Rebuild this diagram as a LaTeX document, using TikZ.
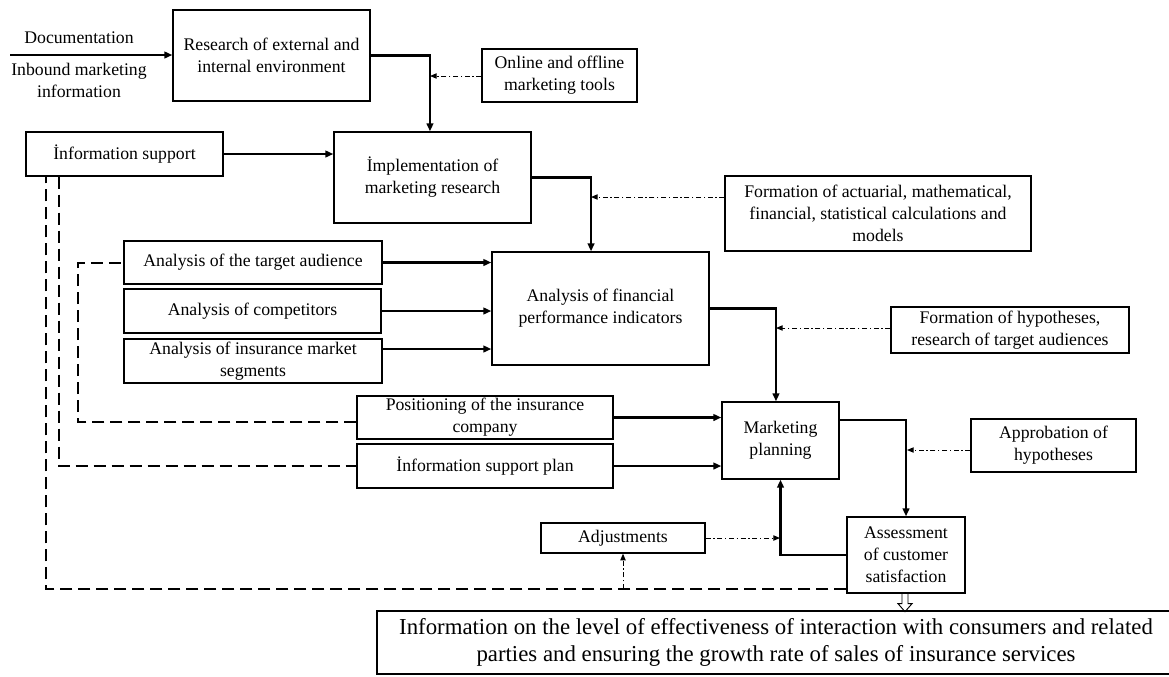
\documentclass[tikz,border=0pt]{standalone}
\usepackage{fontspec}
\setmainfont{Liberation Serif}
\usetikzlibrary{arrows.meta, calc}

\newcommand{\boxfont}{\fontsize{13.3}{16.5}\selectfont}
\newcommand{\bigfont}{\fontsize{17.1}{20.5}\selectfont}

\begin{document}
\begin{tikzpicture}[x=0.75pt, y=-0.75pt,
    box/.style={draw, line width=1pt, align=center, inner sep=1pt, font=\boxfont},
    wh/.style 2 args={minimum width=#1*0.75pt, minimum height=#2*0.75pt},
    flow/.style={-{Triangle[length=6pt,width=5pt]}, line width=2pt},
    aux/.style={-{Triangle[length=5pt,width=4pt]}, line width=0.7pt, dash pattern=on 3.75pt off 2pt on 1pt off 2pt},
    back/.style={line width=1.5pt, dash pattern=on 9pt off 4.5pt}]
    \useasboundingbox (0,0) rectangle (1169,676);

    % Boxes
    \node[box, wh={197}{91}] (res) at (271.5,55.5) {Research of external and\\internal environment};
    \node[box, wh={155}{53}] (onl) at (559.5,75.5) {Online and offline\\marketing tools};
    \node[box, wh={197}{44}] (info) at (124.5,154) {İnformation support};
    \node[box, wh={197}{91}] (impl) at (432.5,177.5) {İmplementation of\\marketing research};
    \node[box, wh={306}{75}] (act) at (878,213.5) {Formation of actuarial, mathematical,\\financial, statistical calculations and\\models};
    \node[box, wh={258}{43}] (tgt) at (253,262.5) {Analysis of the target audience};
    \node[box, wh={257}{44}] (comp) at (252.5,311) {Analysis of competitors};
    \node[box, wh={258}{44}] (seg) at (253,361) {Analysis of insurance market\\segments};
    \node[box, wh={217}{113}] (fin) at (600.5,308.5) {Analysis of financial\\performance indicators};
    \node[box, wh={238}{46}] (hyp) at (1010,330) {Formation of hypotheses,\\research of target audiences};
    \node[box, wh={256}{43}] (pos) at (485,417.5) {Positioning of the insurance\\company};
    \node[box, wh={256}{44}] (plan) at (485,466) {İnformation support plan};
    \node[box, wh={117}{77}] (mkt) at (780.5,440.5) {Marketing\\planning};
    \node[box, wh={165}{53}] (appr) at (1053.5,445.5) {Approbation of\\hypotheses};
    \node[box, wh={118}{76}] (ass) at (906,555) {Assessment\\of customer\\satisfaction};
    \node[box, wh={164}{30}] (adj) at (623,538) {Adjustments};
    \node[box, wh={798}{63}, font=\bigfont] (out) at (776,642.5) {Information on the level of effectiveness of interaction with consumers and related\\parties and ensuring the growth rate of sales of insurance services};

    % Inputs
    \node[font=\boxfont] (doc) at (79,38) {Documentation};
    \node[font=\boxfont, align=center] (inb) at (79,80) {Inbound marketing\\information};
    \coordinate (src) at (10,55);

    % Taps on the main line
    \coordinate (t1) at (430,76);
    \coordinate (t2) at (591,197);
    \coordinate (t3) at (776,328);
    \coordinate (t4) at (907,450);
    \coordinate (t5) at (780,538);
    \coordinate (t6) at (623,589);

    % Main flow
    \draw[flow] (src) -- (src -| res.west);
    \draw[flow] (res.east) -| ([xshift=-1.9pt]impl.north);
    \draw[flow] (info.east) -- (info.east -| impl.west);
    \draw[flow] (impl.east) -| ([xshift=-7.1pt]fin.north);
    \draw[flow] (tgt.east) -- (tgt.east -| fin.west);
    \draw[flow] (comp.east) -- (comp.east -| fin.west);
    \draw[flow] ([yshift=9pt]seg.east) -- ([yshift=9pt]seg.east -| fin.west);
    \draw[flow] (fin.east) -| ([xshift=-3.4pt]mkt.north);
    \draw[flow] (pos.east) -- (pos.east -| mkt.west);
    \draw[flow] (plan.east) -- (plan.east -| mkt.west);
    \draw[flow] ([yshift=15.4pt]mkt.east) -| (ass.north);
    \draw[flow] (ass.west) -| (mkt.south);

    % Supporting inputs
    \draw[aux] (onl.west |- t1) -- (t1);
    \draw[aux] (act.west |- t2) -- (t2);
    \draw[aux] (hyp.west |- t3) -- (t3);
    \draw[aux] (appr.west |- t4) -- (t4);
    \draw[aux] (adj.east |- t5) -- (t5);
    \draw[aux] (t6) -- (adj.south);

    % Feedback
    \draw[back] ([yshift=-25.5pt]ass.west) -| ([xshift=-58.9pt]info.south);
    \draw[back] ([xshift=-49.1pt]info.south) |- (plan.west);
    \draw[back] ([yshift=-3.4pt]pos.west) -| ([xshift=-33.75pt]tgt.west) -- (tgt.west);

    % Result
    \draw[line width=0.7pt] ([xshift=-3pt]ass.south) -- ++(0,10) -- ++(-4,0) -- ++(7,8) -- ++(7,-8) -- ++(-4,0) -- ++(0,-10);
\end{tikzpicture}
\end{document}
